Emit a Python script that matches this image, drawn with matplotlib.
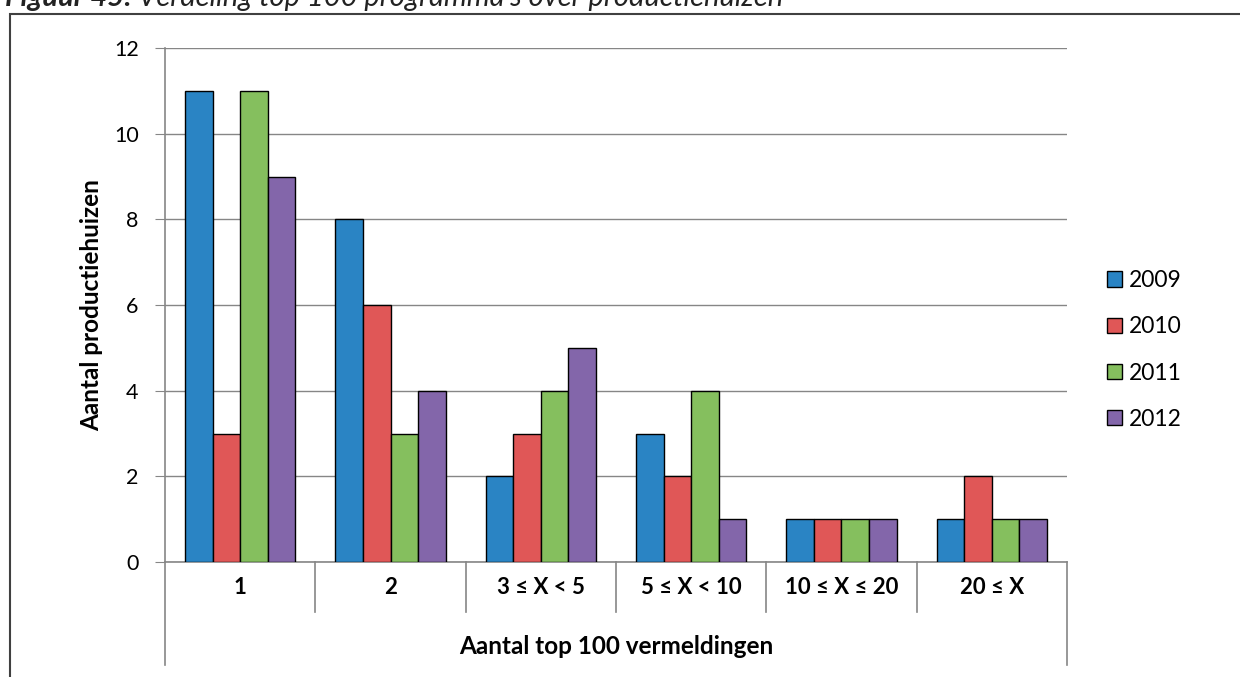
import matplotlib.pyplot as plt
import numpy as np
from matplotlib.patches import Rectangle

plt.rcParams['font.family'] = ['Lato', 'DejaVu Sans']

categories = ['1', '2', '3 ≤ X < 5', '5 ≤ X < 10', '10 ≤ X ≤ 20', '20 ≤ X']
years = ['2009', '2010', '2011', '2012']
v2009 = [11, 8, 2, 3, 1, 1]
v2010 = [3, 6, 3, 2, 1, 2]
v2011 = [11, 3, 4, 4, 1, 1]
v2012 = [9, 4, 5, 1, 1, 1]
colors = ['#2A84C4', '#E05757', '#85BF5E', '#8366AA']

fig = plt.figure(figsize=(12.4, 6.77), dpi=100)
ax = fig.add_axes([165 / 1240, 1 - 562 / 677, (1067 - 165) / 1240, (562 - 48) / 677])

x = np.arange(len(categories))
w = 0.1833
series = [v2009, v2010, v2011, v2012]
for k, (vals, c, lab) in enumerate(zip(series, colors, years)):
    ax.bar(x + (k - 1.5) * w, vals, w, color=c, edgecolor='black', linewidth=1.0,
           label=lab, zorder=3)

ax.set_xlim(-0.5, len(categories) - 0.5)
ax.set_ylim(0, 12)
ax.set_yticks(range(0, 13, 2))
ax.tick_params(axis='y', length=7, color='#868686', labelsize=15.5, pad=12)
ax.set_xticks([])
ax.grid(axis='y', color='#868686', linewidth=1, zorder=0)
for s in ['top', 'right']:
    ax.spines[s].set_visible(False)
for s in ['left', 'bottom']:
    ax.spines[s].set_color('#868686')
    ax.spines[s].set_linewidth(1.2)

# y axis title
ax.text(-0.081, 0.5, 'Aantal productiehuizen', transform=ax.transAxes, rotation=90,
        ha='center', va='center', fontsize=17.5, fontweight='bold')

# multi-level category axis
tr = ax.get_xaxis_transform()
for b in np.arange(0.5, len(categories) - 0.5):
    ax.plot([b, b], [0, -0.0973], transform=tr, color='#868686', lw=1.2, clip_on=False)
for b in [-0.5, len(categories) - 0.5]:
    ax.plot([b, b], [0, -0.2], transform=tr, color='#868686', lw=1.2, clip_on=False)
for i, c in enumerate(categories):
    ax.text(i, -0.05, c, transform=tr, ha='center', va='center',
            fontsize=16, fontweight='bold')
ax.text(2.5, -0.165, 'Aantal top 100 vermeldingen', transform=tr, ha='center',
        va='center', fontsize=17.5, fontweight='bold')

ax.legend(loc='center left', bbox_to_anchor=(1107 / 1240, 1 - 350 / 677),
          bbox_transform=fig.transFigure, frameon=False, fontsize=16.5,
          handlelength=0.65, handleheight=0.65, handletextpad=0.3,
          labelspacing=1.1, borderpad=0, borderaxespad=0)

# outer frame and clipped caption (cut off at the top, as in the source)
fig.patches.append(Rectangle((10 / 1240, -0.05), 1.2, 1 - 14 / 677 + 0.05,
                             transform=fig.transFigure, fill=False,
                             edgecolor='#404040', linewidth=1.5))
cap_y = 1 - 6 / 677
t1 = fig.text(5 / 1240, cap_y, "Figuur 45: ", fontsize=21, style='italic',
              fontweight='bold', va='baseline', ha='left', color='#222222')
renderer = fig.canvas.get_renderer()
bb = t1.get_window_extent(renderer)
fig.text(bb.x1 / fig.bbox.width, cap_y, "Verdeling top 100 programma's over productiehuizen",
         fontsize=21, style='italic', va='baseline', ha='left', color='#222222')

fig.savefig('out.png', dpi=100)
